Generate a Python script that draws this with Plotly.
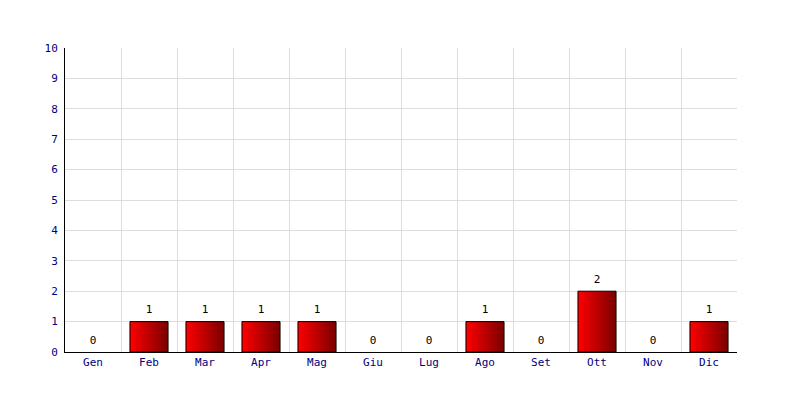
import plotly.graph_objects as go

months = ["Gen", "Feb", "Mar", "Apr", "Mag", "Giu", "Lug", "Ago", "Set", "Ott", "Nov", "Dic"]
values = [0, 1, 1, 1, 1, 0, 0, 1, 0, 2, 0, 1]
y_ticks = list(range(0, 11))

half_w = 0.34
fig = go.Figure()

for i, v in enumerate(values):
    if v <= 0:
        continue
    fig.add_trace(go.Scatter(
        x=[i - half_w, i + half_w, i + half_w, i - half_w, i - half_w],
        y=[0, 0, v, v, 0],
        mode="lines",
        fill="toself",
        fillgradient=dict(type="horizontal",
                          colorscale=[[0, "#ff0000"], [1, "#7a0000"]]),
        line=dict(color="#000000", width=1),
        hoverinfo="skip",
        showlegend=False,
    ))

fig.add_trace(go.Scatter(
    x=list(range(len(months))),
    y=values,
    mode="markers+text",
    marker=dict(size=7, color="rgba(0,0,0,0)"),
    text=[str(v) for v in values],
    textposition="top center",
    textfont=dict(family="DejaVu Sans Mono", size=11, color="#000000"),
    showlegend=False,
    hoverinfo="skip",
))

fig.update_layout(
    width=800, height=400,
    margin=dict(l=57, r=71, t=40, b=56),
    paper_bgcolor="#ffffff",
    plot_bgcolor="#ffffff",
    font=dict(family="DejaVu Sans Mono", size=11, color="#000080"),
    xaxis=dict(
        range=[-0.5, len(months) - 0.5],
        tickvals=list(range(len(months))),
        ticktext=months,
        showgrid=False,
        zeroline=False,
        showline=True, linecolor="#000000", linewidth=1,
        ticks="", ticklen=0,
        minor=dict(tickvals=[i + 0.5 for i in range(len(months))],
                   showgrid=True, gridcolor="#dddddd", gridwidth=1, ticks=""),
        fixedrange=True,
    ),
    yaxis=dict(
        range=[0, 10],
        tickvals=y_ticks,
        showgrid=True, gridcolor="#dddddd", gridwidth=1,
        zeroline=False,
        showline=True, linecolor="#000000", linewidth=1,
        ticks="", ticklen=0,
        ticklabelstandoff=4,
        fixedrange=True,
    ),
)

fig.write_html("out.html")
